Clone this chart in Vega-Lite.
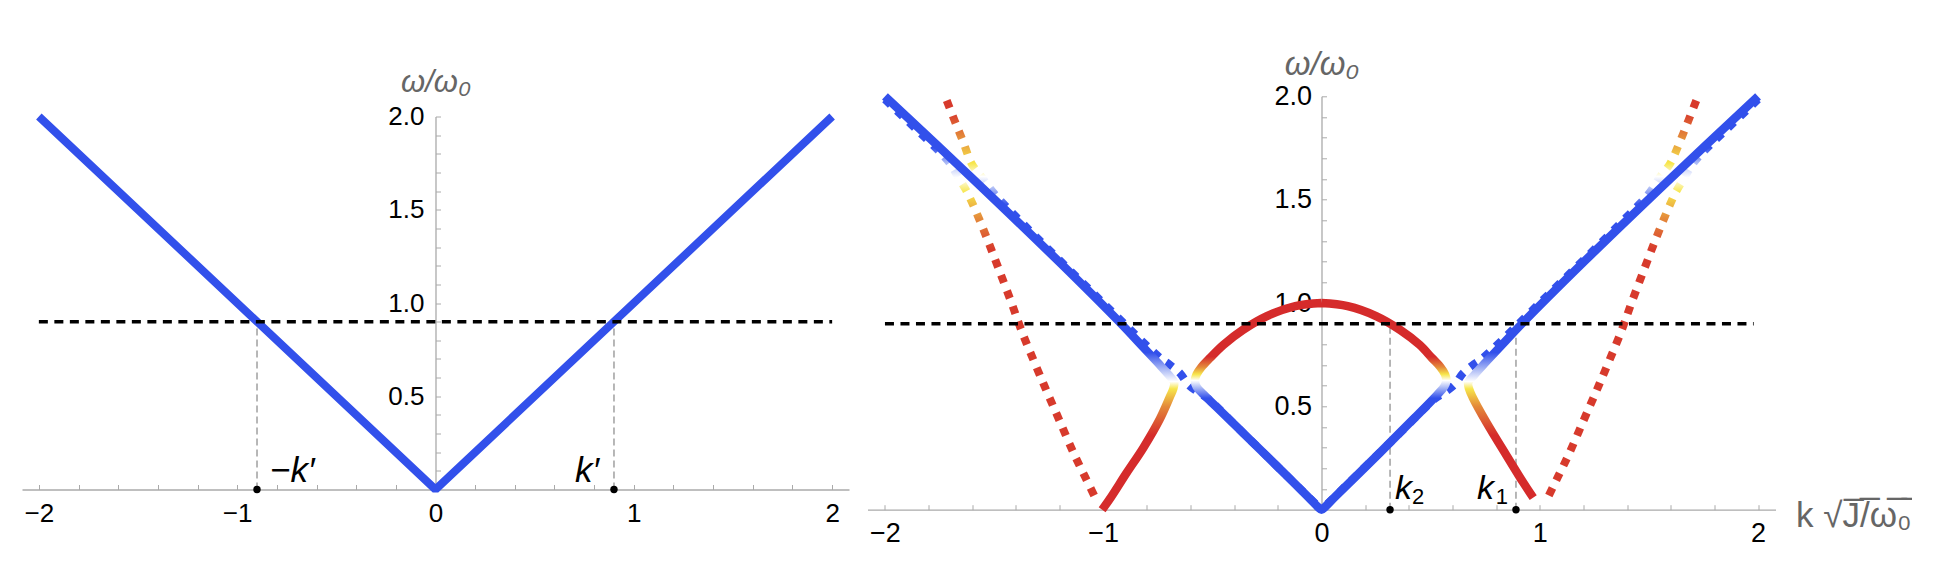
{
  "$schema": "https://vega.github.io/schema/vega-lite/v6.json",
  "background": "white",
  "padding": {"left": 22, "top": 48, "right": 0, "bottom": 0},
  "bounds": "flush",
  "center": true,
  "spacing": 18.5,
  "config": {
    "view": {"stroke": null},
    "font": "Liberation Sans",
    "axis": {
      "grid": false,
      "domainColor": "#aaaaaa",
      "domainWidth": 1.3,
      "tickColor": "#aaaaaa",
      "tickWidth": 1,
      "labelColor": "#000000",
      "labelFont": "Liberation Sans",
      "labelFlush": false,
      "labelOverlap": false,
      "titleColor": "#666666",
      "titleFont": "Liberation Sans",
      "titleFontStyle": "italic",
      "titleFontWeight": "normal"
    }
  },
  "datasets": {
    "lband": [{"k": -2, "w": 2}, {"k": 0, "w": 0}, {"k": 2, "w": 2}],
    "lhline": [{"k": -2, "k2": 2, "w": 0.9}],
    "lmark": [
      {"k": -0.9, "w": 0, "w2": 0.9, "label": "−k′", "side": "r"},
      {"k": 0.9, "w": 0, "w2": 0.9, "label": "k′", "side": "l"}
    ],
    "rhline": [{"k": -2, "k2": 1.98, "w": 0.9}],
    "rmark": [
      {"k": 0.314, "w": 0, "w2": 0.9, "label": "k", "sub": "2", "side": "r"},
      {"k": 0.891, "w": 0, "w2": 0.9, "label": "k", "sub": "1", "side": "l"}
    ],
    "curves": [
      {"c": "A", "k": -2.0, "w": 2.0},
      {"c": "A", "k": -1.6, "w": 1.603},
      {"c": "A", "k": -1.2, "w": 1.197},
      {"c": "A", "k": -0.923, "w": 0.905},
      {"c": "A", "k": -0.816, "w": 0.785},
      {"c": "A", "k": -0.745, "w": 0.705},
      {"c": "A", "k": -0.7, "w": 0.652},
      {"c": "A", "k": -0.675, "w": 0.615},
      {"c": "A", "k": -0.68, "w": 0.582},
      {"c": "A", "k": -0.695, "w": 0.545},
      {"c": "A", "k": -0.74, "w": 0.44},
      {"c": "A", "k": -0.816, "w": 0.3},
      {"c": "A", "k": -0.893, "w": 0.178},
      {"c": "A", "k": -0.965, "w": 0.06},
      {"c": "A", "k": -1.005, "w": 0.0},

      {"c": "C", "k": 2.0, "w": 2.0},
      {"c": "C", "k": 1.6, "w": 1.603},
      {"c": "C", "k": 1.2, "w": 1.197},
      {"c": "C", "k": 0.923, "w": 0.905},
      {"c": "C", "k": 0.816, "w": 0.785},
      {"c": "C", "k": 0.745, "w": 0.705},
      {"c": "C", "k": 0.7, "w": 0.652},
      {"c": "C", "k": 0.672, "w": 0.615},
      {"c": "C", "k": 0.677, "w": 0.582},
      {"c": "C", "k": 0.692, "w": 0.545},
      {"c": "C", "k": 0.757, "w": 0.42},
      {"c": "C", "k": 0.849, "w": 0.26},
      {"c": "C", "k": 0.925, "w": 0.13},
      {"c": "C", "k": 0.97, "w": 0.058},

      {"c": "B", "k": 0.0, "w": 1.0},
      {"c": "B", "k": -0.12, "w": 0.985},
      {"c": "B", "k": -0.25, "w": 0.937},
      {"c": "B", "k": -0.36, "w": 0.87},
      {"c": "B", "k": -0.45, "w": 0.797},
      {"c": "B", "k": -0.51, "w": 0.735},
      {"c": "B", "k": -0.55, "w": 0.69},
      {"c": "B", "k": -0.572, "w": 0.655},
      {"c": "B", "k": -0.58, "w": 0.625},
      {"c": "B", "k": -0.572, "w": 0.595},
      {"c": "B", "k": -0.54, "w": 0.557},
      {"c": "B", "k": -0.48, "w": 0.496},
      {"c": "B", "k": -0.358, "w": 0.37},
      {"c": "B", "k": -0.205, "w": 0.212},
      {"c": "B", "k": -0.06, "w": 0.06},
      {"c": "B", "k": -0.015, "w": 0.012},
      {"c": "B", "k": 0.0, "w": 0.0},
      {"c": "B", "k": 0.015, "w": 0.012},
      {"c": "B", "k": 0.06, "w": 0.06},
      {"c": "B", "k": 0.268, "w": 0.276},
      {"c": "B", "k": 0.42, "w": 0.437},
      {"c": "B", "k": 0.53, "w": 0.556},
      {"c": "B", "k": 0.562, "w": 0.595},
      {"c": "B", "k": 0.572, "w": 0.625},
      {"c": "B", "k": 0.566, "w": 0.655},
      {"c": "B", "k": 0.545, "w": 0.69},
      {"c": "B", "k": 0.505, "w": 0.735},
      {"c": "B", "k": 0.45, "w": 0.797},
      {"c": "B", "k": 0.36, "w": 0.87},
      {"c": "B", "k": 0.25, "w": 0.937},
      {"c": "B", "k": 0.12, "w": 0.985},
      {"c": "B", "k": 0.0, "w": 1.0},

      {"c": "D2L", "k": -1.717, "w": 1.98},
      {"c": "D2L", "k": -1.68, "w": 1.88},
      {"c": "D2L", "k": -1.64, "w": 1.775},
      {"c": "D2L", "k": -1.603, "w": 1.674},
      {"c": "D2L", "k": -1.557, "w": 1.61},
      {"c": "D2L", "k": -1.5, "w": 1.53},
      {"c": "D2L", "k": -1.4, "w": 1.418},
      {"c": "D2L", "k": -1.0, "w": 1.0},
      {"c": "D2L", "k": -0.74, "w": 0.735},
      {"c": "D2L", "k": -0.7, "w": 0.705},
      {"c": "D2L", "k": -0.648, "w": 0.66},
      {"c": "D2L", "k": -0.61, "w": 0.605},
      {"c": "D2L", "k": -0.56, "w": 0.565},
      {"c": "D2L", "k": -0.52, "w": 0.537},
      {"c": "D2L", "k": -0.358, "w": 0.37},
      {"c": "D2L", "k": -0.205, "w": 0.212},
      {"c": "D2L", "k": 0.0, "w": 0.0},

      {"c": "D2R", "k": 1.717, "w": 1.98},
      {"c": "D2R", "k": 1.68, "w": 1.88},
      {"c": "D2R", "k": 1.64, "w": 1.775},
      {"c": "D2R", "k": 1.597, "w": 1.674},
      {"c": "D2R", "k": 1.551, "w": 1.61},
      {"c": "D2R", "k": 1.5, "w": 1.53},
      {"c": "D2R", "k": 1.4, "w": 1.418},
      {"c": "D2R", "k": 1.0, "w": 1.0},
      {"c": "D2R", "k": 0.74, "w": 0.735},
      {"c": "D2R", "k": 0.7, "w": 0.705},
      {"c": "D2R", "k": 0.648, "w": 0.66},
      {"c": "D2R", "k": 0.61, "w": 0.605},
      {"c": "D2R", "k": 0.56, "w": 0.565},
      {"c": "D2R", "k": 0.52, "w": 0.537},
      {"c": "D2R", "k": 0.358, "w": 0.37},
      {"c": "D2R", "k": 0.205, "w": 0.212},
      {"c": "D2R", "k": 0.0, "w": 0.0},

      {"c": "D1L", "k": -2.0, "w": 1.985},
      {"c": "D1L", "k": -1.85, "w": 1.834},
      {"c": "D1L", "k": -1.75, "w": 1.732},
      {"c": "D1L", "k": -1.7, "w": 1.672},
      {"c": "D1L", "k": -1.665, "w": 1.61},
      {"c": "D1L", "k": -1.629, "w": 1.547},
      {"c": "D1L", "k": -1.595, "w": 1.472},
      {"c": "D1L", "k": -1.537, "w": 1.324},
      {"c": "D1L", "k": -1.481, "w": 1.171},
      {"c": "D1L", "k": -1.42, "w": 1.0},
      {"c": "D1L", "k": -1.374, "w": 0.865},
      {"c": "D1L", "k": -1.3, "w": 0.675},
      {"c": "D1L", "k": -1.256, "w": 0.566},
      {"c": "D1L", "k": -1.2, "w": 0.43},
      {"c": "D1L", "k": -1.133, "w": 0.268},
      {"c": "D1L", "k": -1.08, "w": 0.152},
      {"c": "D1L", "k": -1.033, "w": 0.05},

      {"c": "D1R", "k": 2.0, "w": 1.985},
      {"c": "D1R", "k": 1.85, "w": 1.834},
      {"c": "D1R", "k": 1.75, "w": 1.732},
      {"c": "D1R", "k": 1.7, "w": 1.672},
      {"c": "D1R", "k": 1.662, "w": 1.605},
      {"c": "D1R", "k": 1.625, "w": 1.54},
      {"c": "D1R", "k": 1.592, "w": 1.465},
      {"c": "D1R", "k": 1.537, "w": 1.324},
      {"c": "D1R", "k": 1.481, "w": 1.171},
      {"c": "D1R", "k": 1.42, "w": 1.0},
      {"c": "D1R", "k": 1.374, "w": 0.865},
      {"c": "D1R", "k": 1.3, "w": 0.675},
      {"c": "D1R", "k": 1.256, "w": 0.566},
      {"c": "D1R", "k": 1.2, "w": 0.43},
      {"c": "D1R", "k": 1.133, "w": 0.268},
      {"c": "D1R", "k": 1.08, "w": 0.152},
      {"c": "D1R", "k": 1.033, "w": 0.05}
    ]
  },
  "hconcat": [
    {
      "width": 827,
      "height": 373,
      "encoding": {
        "x": {
          "field": "k", "type": "quantitative",
          "scale": {"domain": [-2.085, 2.085], "nice": false, "zero": false},
          "axis": {
            "title": null,
            "values": [-2, -1.8, -1.6, -1.4, -1.2, -1, -0.8, -0.6, -0.4, -0.2, 0, 0.2, 0.4, 0.6, 0.8, 1, 1.2, 1.4, 1.6, 1.8, 2],
            "labelExpr": "abs(datum.value - round(datum.value)) < 0.001 ? format(datum.value, 'd') : ''",
            "tickSize": -5,
            "labelPadding": 16,
            "labelFontSize": 26
          }
        },
        "y": {
          "field": "w", "type": "quantitative",
          "scale": {"domain": [0, 2], "nice": false, "zero": false},
          "axis": {
            "values": [0.1, 0.2, 0.3, 0.4, 0.5, 0.6, 0.7, 0.8, 0.9, 1.0, 1.1, 1.2, 1.3, 1.4, 1.5, 1.6, 1.7, 1.8, 1.9, 2.0],
            "labelExpr": "abs(datum.value * 2 - round(datum.value * 2)) < 0.001 ? format(datum.value, '.1f') : ''",
            "offset": -413.5,
            "tickSize": -5,
            "labelPadding": 16.5,
            "labelFontSize": 26,
            "title": "ω/ω₀",
            "titleAngle": 0,
            "titleX": 0,
            "titleY": -34,
            "titleAlign": "center",
            "titleBaseline": "middle",
            "titleFontSize": 31
          }
        }
      },
      "layer": [
        {
          "data": {"name": "lmark"},
          "mark": {"type": "rule", "color": "#888888", "strokeWidth": 1.2, "strokeDash": [7, 4]},
          "encoding": {"y2": {"field": "w2"}}
        },
        {
          "data": {"name": "lband"},
          "mark": {"type": "line", "stroke": "#3250EB", "strokeWidth": 8, "strokeCap": "butt", "strokeJoin": "bevel"},
          "encoding": {"order": {"value": null}}
        },
        {
          "data": {"name": "lhline"},
          "mark": {"type": "rule", "color": "#000000", "strokeWidth": 3.5, "strokeDash": [9, 6.5]},
          "encoding": {"x2": {"field": "k2"}}
        },
        {
          "data": {"name": "lmark"},
          "mark": {"type": "circle", "color": "#000000", "size": 55, "opacity": 1},
          "encoding": {}
        },
        {
          "data": {"name": "lmark"},
          "transform": [{"filter": "datum.side == 'r'"}],
          "mark": {"type": "text", "align": "left", "baseline": "alphabetic", "dx": 13, "dy": -8, "fontSize": 35, "fontStyle": "italic", "color": "#000000"},
          "encoding": {"text": {"field": "label"}}
        },
        {
          "data": {"name": "lmark"},
          "transform": [{"filter": "datum.side == 'l'"}],
          "mark": {"type": "text", "align": "right", "baseline": "alphabetic", "dx": -15, "dy": -8, "fontSize": 35, "fontStyle": "italic", "color": "#000000"},
          "encoding": {"text": {"field": "label"}}
        }
      ]
    },
    {
      "width": 908,
      "height": 413.4,
      "encoding": {
        "x": {
          "field": "k", "type": "quantitative",
          "scale": {"domain": [-2.08, 2.08], "nice": false, "zero": false},
          "axis": {
            "values": [-2, -1.8, -1.6, -1.4, -1.2, -1, -0.8, -0.6, -0.4, -0.2, 0, 0.2, 0.4, 0.6, 0.8, 1, 1.2, 1.4, 1.6, 1.8, 2],
            "labelExpr": "abs(datum.value - round(datum.value)) < 0.001 ? format(datum.value, 'd') : ''",
            "tickSize": -5,
            "labelPadding": 16,
            "labelFontSize": 27,
            "title": "k √J̅/̅ω̅₀̅",
            "titleAngle": 0,
            "titleX": 928,
            "titleY": 6,
            "titleAlign": "left",
            "titleBaseline": "middle",
            "titleFontSize": 35,
            "titleFontStyle": "normal"
          }
        },
        "y": {
          "field": "w", "type": "quantitative",
          "scale": {"domain": [0, 2], "nice": false, "zero": false},
          "axis": {
            "values": [0.1, 0.2, 0.3, 0.4, 0.5, 0.6, 0.7, 0.8, 0.9, 1.0, 1.1, 1.2, 1.3, 1.4, 1.5, 1.6, 1.7, 1.8, 1.9, 2.0],
            "labelExpr": "abs(datum.value * 2 - round(datum.value * 2)) < 0.001 ? format(datum.value, '.1f') : ''",
            "offset": -454,
            "tickSize": -5,
            "labelPadding": 15,
            "labelFontSize": 27,
            "title": "ω/ω₀",
            "titleAngle": 0,
            "titleX": 0,
            "titleY": -32,
            "titleAlign": "center",
            "titleBaseline": "middle",
            "titleFontSize": 33
          }
        }
      },
      "layer": [
        {
          "data": {"name": "rmark"},
          "mark": {"type": "rule", "color": "#888888", "strokeWidth": 1.2, "strokeDash": [7, 4]},
          "encoding": {"y2": {"field": "w2"}}
        },
        {
          "data": {"name": "curves"},
          "transform": [{"filter": "datum.c == 'D1L' || datum.c == 'D1R'"}],
          "mark": {
            "type": "line", "interpolate": "catmull-rom", "strokeWidth": 8, "strokeCap": "butt", "strokeDash": [8, 8.5],
            "stroke": {"gradient": "linear", "x1": 0, "y1": 0, "x2": 0, "y2": 1, "stops": [
              {"offset": 0, "color": "#3250EB"},
              {"offset": 0.121, "color": "#3250EB"},
              {"offset": 0.158, "color": "#A9B8F5"},
              {"offset": 0.196, "color": "#FFFFFF"},
              {"offset": 0.2326, "color": "#F7E64B"},
              {"offset": 0.297, "color": "#E48A3A"},
              {"offset": 0.375, "color": "#D73A2C"},
              {"offset": 1, "color": "#D73A2C"}
            ]}
          },
          "encoding": {"detail": {"field": "c"}, "order": {"value": null}}
        },
        {
          "data": {"name": "curves"},
          "transform": [{"filter": "datum.c == 'D2L' || datum.c == 'D2R'"}],
          "mark": {
            "type": "line", "interpolate": "catmull-rom", "strokeWidth": 8, "strokeCap": "butt", "strokeDash": [8, 8.5],
            "stroke": {"gradient": "linear", "x1": 0, "y1": 0, "x2": 0, "y2": 1, "stops": [
              {"offset": 0, "color": "#D73A2C"},
              {"offset": 0.03, "color": "#D73A2C"},
              {"offset": 0.09, "color": "#E48A3A"},
              {"offset": 0.153, "color": "#F7E64B"},
              {"offset": 0.186, "color": "#FFFFFF"},
              {"offset": 0.216, "color": "#A9B8F5"},
              {"offset": 0.256, "color": "#3250EB"},
              {"offset": 1, "color": "#3250EB"}
            ]}
          },
          "encoding": {"detail": {"field": "c"}, "order": {"value": null}}
        },
        {
          "data": {"name": "curves"},
          "transform": [{"filter": "datum.c == 'A'"}],
          "mark": {
            "type": "line", "interpolate": "catmull-rom", "strokeWidth": 8.5, "strokeCap": "butt",
            "stroke": {"gradient": "linear", "x1": 0, "y1": 0, "x2": 0, "y2": 1, "stops": [
              {"offset": 0, "color": "#3250EB"},
              {"offset": 0.62, "color": "#3250EB"},
              {"offset": 0.66, "color": "#A9B8F5"},
              {"offset": 0.69, "color": "#FFFFFF"},
              {"offset": 0.7075, "color": "#F7E64B"},
              {"offset": 0.75, "color": "#E48A3A"},
              {"offset": 0.82, "color": "#D52B2B"},
              {"offset": 1, "color": "#D52B2B"}
            ]}
          },
          "encoding": {"order": {"value": null}}
        },
        {
          "data": {"name": "curves"},
          "transform": [{"filter": "datum.c == 'C'"}],
          "mark": {
            "type": "line", "interpolate": "catmull-rom", "strokeWidth": 8.5, "strokeCap": "butt",
            "stroke": {"gradient": "linear", "x1": 0, "y1": 0, "x2": 0, "y2": 1, "stops": [
              {"offset": 0, "color": "#3250EB"},
              {"offset": 0.6385, "color": "#3250EB"},
              {"offset": 0.68, "color": "#A9B8F5"},
              {"offset": 0.7106, "color": "#FFFFFF"},
              {"offset": 0.7286, "color": "#F7E64B"},
              {"offset": 0.7724, "color": "#E48A3A"},
              {"offset": 0.8445, "color": "#D52B2B"},
              {"offset": 1, "color": "#D52B2B"}
            ]}
          },
          "encoding": {"order": {"value": null}}
        },
        {
          "data": {"name": "curves"},
          "transform": [{"filter": "datum.c == 'B'"}],
          "mark": {
            "type": "line", "interpolate": "catmull-rom", "strokeWidth": 8.5, "strokeCap": "butt", "strokeJoin": "round",
            "stroke": {"gradient": "linear", "x1": 0, "y1": 0, "x2": 0, "y2": 1, "stops": [
              {"offset": 0, "color": "#D52B2B"},
              {"offset": 0.26, "color": "#D52B2B"},
              {"offset": 0.31, "color": "#E48A3A"},
              {"offset": 0.345, "color": "#F7E64B"},
              {"offset": 0.375, "color": "#FFFFFF"},
              {"offset": 0.41, "color": "#A9B8F5"},
              {"offset": 0.46, "color": "#3250EB"},
              {"offset": 1, "color": "#3250EB"}
            ]}
          },
          "encoding": {"order": {"value": null}}
        },
        {
          "data": {"name": "rhline"},
          "mark": {"type": "rule", "color": "#000000", "strokeWidth": 3.5, "strokeDash": [9, 6.5]},
          "encoding": {"x2": {"field": "k2"}}
        },
        {
          "data": {"name": "rmark"},
          "mark": {"type": "circle", "color": "#000000", "size": 55, "opacity": 1},
          "encoding": {}
        },
        {
          "data": {"name": "rmark"},
          "transform": [{"filter": "datum.side == 'r'"}],
          "mark": {"type": "text", "align": "left", "baseline": "alphabetic", "dx": 5, "dy": -11, "fontSize": 34, "fontStyle": "italic", "color": "#000000"},
          "encoding": {"text": {"field": "label"}}
        },
        {
          "data": {"name": "rmark"},
          "transform": [{"filter": "datum.side == 'r'"}],
          "mark": {"type": "text", "align": "left", "baseline": "alphabetic", "dx": 22, "dy": -6, "fontSize": 22, "color": "#000000"},
          "encoding": {"text": {"field": "sub"}}
        },
        {
          "data": {"name": "rmark"},
          "transform": [{"filter": "datum.side == 'l'"}],
          "mark": {"type": "text", "align": "right", "baseline": "alphabetic", "dx": -22, "dy": -11, "fontSize": 34, "fontStyle": "italic", "color": "#000000"},
          "encoding": {"text": {"field": "label"}}
        },
        {
          "data": {"name": "rmark"},
          "transform": [{"filter": "datum.side == 'l'"}],
          "mark": {"type": "text", "align": "right", "baseline": "alphabetic", "dx": -8, "dy": -6, "fontSize": 22, "color": "#000000"},
          "encoding": {"text": {"field": "sub"}}
        }
      ]
    }
  ]
}
